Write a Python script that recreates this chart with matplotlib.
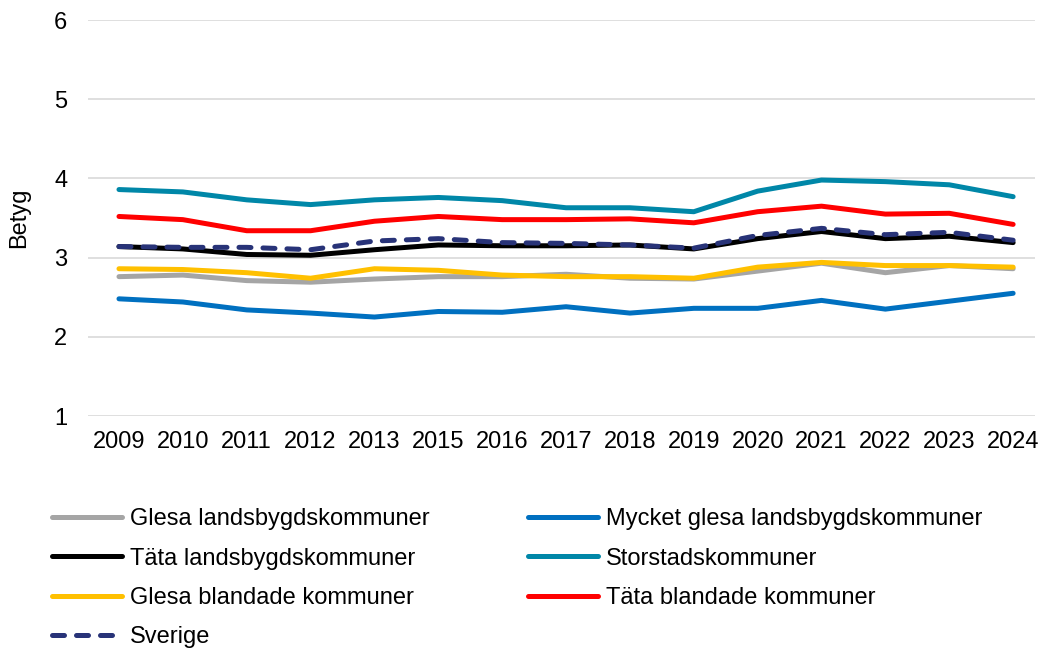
import matplotlib
matplotlib.use("Agg")
import matplotlib.pyplot as plt

plt.rcParams['font.family'] = ['Liberation Sans', 'DejaVu Sans']

years = ["2009", "2010", "2011", "2012", "2013", "2015", "2016", "2017",
         "2018", "2019", "2020", "2021", "2022", "2023", "2024"]

glesa_landsbygd = [2.76, 2.78, 2.71, 2.69, 2.73, 2.76, 2.76, 2.79, 2.74, 2.73, 2.83, 2.93, 2.81, 2.90, 2.86]
mycket_glesa = [2.48, 2.44, 2.34, 2.30, 2.25, 2.32, 2.31, 2.38, 2.30, 2.36, 2.36, 2.46, 2.35, 2.45, 2.55]
tata_landsbygd = [3.14, 3.11, 3.04, 3.03, 3.10, 3.16, 3.15, 3.15, 3.16, 3.11, 3.24, 3.33, 3.24, 3.27, 3.19]
storstad = [3.86, 3.83, 3.73, 3.67, 3.73, 3.76, 3.72, 3.63, 3.63, 3.58, 3.84, 3.98, 3.96, 3.92, 3.77]
glesa_blandade = [2.86, 2.85, 2.81, 2.74, 2.86, 2.84, 2.78, 2.76, 2.76, 2.74, 2.88, 2.94, 2.90, 2.90, 2.88]
tata_blandade = [3.52, 3.48, 3.34, 3.34, 3.46, 3.52, 3.48, 3.48, 3.49, 3.44, 3.58, 3.65, 3.55, 3.56, 3.42]
sverige = [3.14, 3.13, 3.13, 3.10, 3.21, 3.24, 3.19, 3.18, 3.16, 3.12, 3.28, 3.37, 3.29, 3.32, 3.22]

series = [
    ("Glesa landsbygdskommuner", glesa_landsbygd, "#A5A5A5", "-"),
    ("Mycket glesa landsbygdskommuner", mycket_glesa, "#0070C0", "-"),
    ("Täta landsbygdskommuner", tata_landsbygd, "#000000", "-"),
    ("Storstadskommuner", storstad, "#0087A8", "-"),
    ("Glesa blandade kommuner", glesa_blandade, "#FFC000", "-"),
    ("Täta blandade kommuner", tata_blandade, "#FF0000", "-"),
    ("Sverige", sverige, "#283378", "--"),
]

FS = 17
LW = 3.6

fig = plt.figure(figsize=(10.39, 6.48), dpi=100)
ax = fig.add_axes([0.0847, 0.358, 0.9113, 0.611])

x = list(range(len(years)))
lines = {}
for name, vals, color, ls in series:
    if ls == "--":
        ln, = ax.plot(x, vals, color=color, lw=LW, ls=(0, (2.4, 2.4)),
                      solid_capstyle='round', dash_capstyle='round', label=name)
    else:
        ln, = ax.plot(x, vals, color=color, lw=LW, solid_capstyle='round', label=name)
    lines[name] = ln

ax.set_ylim(1, 6)
ax.set_xlim(-0.485, 14.34)
ax.set_yticks([1, 2, 3, 4, 5, 6])
ax.set_xticks(x)
ax.set_xticklabels(years)
ax.tick_params(axis='both', length=0, labelsize=FS, colors='#000000')
ax.tick_params(axis='x', pad=11)
ax.tick_params(axis='y', pad=15)
ax.grid(axis='y', color='#D9D9D9', lw=1.2)
ax.set_axisbelow(True)
for s in ax.spines.values():
    s.set_visible(False)
ax.set_ylabel("Betyg", fontsize=FS, labelpad=17)

order = ["Glesa landsbygdskommuner", "Täta landsbygdskommuner", "Glesa blandade kommuner", "Sverige",
         "Mycket glesa landsbygdskommuner", "Storstadskommuner", "Täta blandade kommuner"]
handles = [lines[n] for n in order]
fig.legend(handles, order, loc='upper left', bbox_to_anchor=(0.041, 0.230), ncol=2,
           frameon=False, fontsize=FS, handlelength=2.97, handletextpad=0.34,
           columnspacing=4.15, labelspacing=0.73, borderaxespad=0)

fig.savefig("out.png", dpi=100)
